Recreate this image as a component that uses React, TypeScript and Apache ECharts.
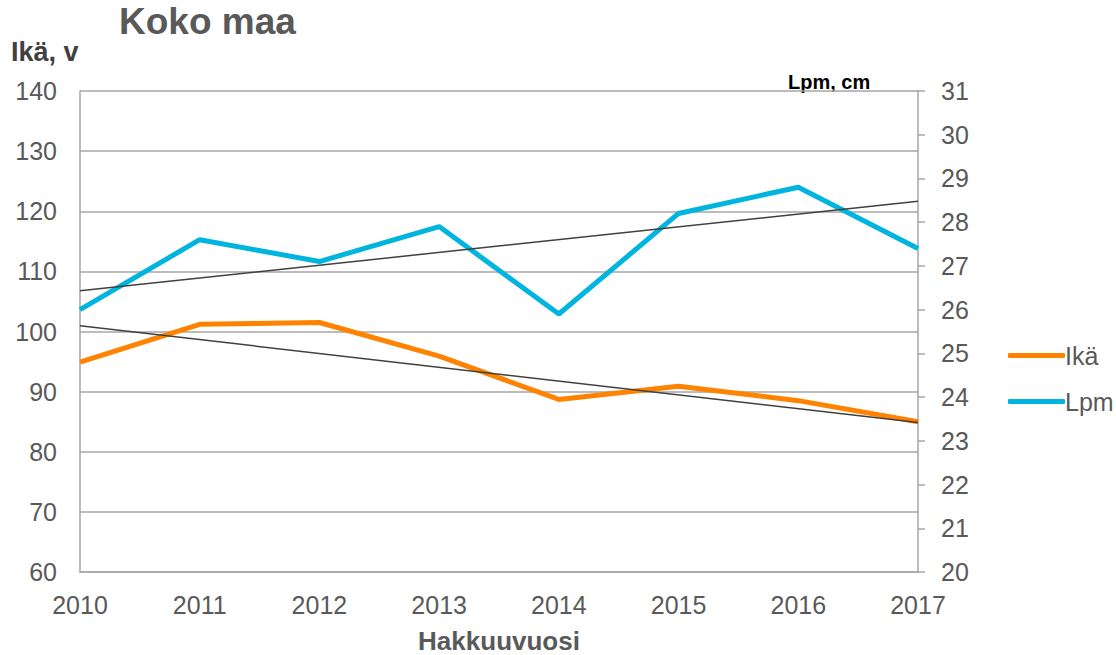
import React, { useEffect, useRef } from "react";
import * as echarts from "echarts";

const years = ["2010", "2011", "2012", "2013", "2014", "2015", "2016", "2017"];
const ikaValues = [94.9, 101.2, 101.5, 95.9, 88.7, 90.9, 88.5, 85.0];
const lpmValues = [26.0, 27.6, 27.1, 27.9, 25.9, 28.2, 28.8, 27.4];
const ikaTrend = [100.95, 84.85];
const lpmTrend = [26.43, 28.48];

const FONT = "Liberation Sans, Arial, sans-serif";

export default function App() {
  const ref = useRef<HTMLDivElement>(null);
  useEffect(() => {
    document.body.style.margin = "0";
    const chart = echarts.init(ref.current!, null, { renderer: "svg" });
    const gray = "#a6a6a6";
    const labelColor = "#595959";
    chart.setOption({
      animation: false,
      textStyle: { fontFamily: FONT },
      graphic: [
        {
          type: "text",
          x: 119,
          y: 21,
          style: {
            text: "Koko maa",
            font: `bold 37px ${FONT}`,
            fill: "#595959",
            verticalAlign: "middle",
          },
        },
        {
          type: "text",
          x: 11,
          y: 52,
          style: {
            text: "Ikä, v",
            font: `bold 27px ${FONT}`,
            fill: "#404040",
            verticalAlign: "middle",
          },
        },
        {
          type: "text",
          x: 788,
          y: 82,
          style: {
            text: "Lpm, cm",
            font: `bold 20px ${FONT}`,
            fill: "#000000",
            verticalAlign: "middle",
          },
        },
        {
          type: "text",
          x: 499,
          y: 641,
          style: {
            text: "Hakkuuvuosi",
            font: `bold 26px ${FONT}`,
            fill: labelColor,
            align: "center",
            verticalAlign: "middle",
          },
        },
      ],
      legend: {
        orient: "vertical",
        left: 1003,
        top: 338,
        itemGap: 21,
        itemWidth: 57,
        itemHeight: 5,
        icon: "roundRect",
        data: ["Ikä", "Lpm"],
        textStyle: { fontSize: 25, color: labelColor, fontFamily: FONT, padding: [0, 0, 0, -5] },
      },
      grid: { left: 80, right: 198, top: 91, bottom: 83, outerBoundsMode: "none", containLabel: false },
      xAxis: {
        type: "category",
        data: years,
        boundaryGap: false,
        axisLine: { lineStyle: { color: gray, width: 1.5 } },
        axisTick: { show: false },
        axisLabel: { fontSize: 25, color: labelColor, margin: 20, fontFamily: FONT },
      },
      yAxis: [
        {
          type: "value",
          min: 60,
          max: 140,
          interval: 10,
          axisLine: { show: true, lineStyle: { color: gray, width: 1.5 } },
          axisTick: { show: false },
          axisLabel: { fontSize: 25, color: labelColor, margin: 23, fontFamily: FONT },
          splitLine: { lineStyle: { color: gray, width: 1.5 } },
        },
        {
          type: "value",
          min: 20,
          max: 31,
          interval: 1,
          position: "right",
          axisLine: { show: true, lineStyle: { color: gray, width: 1.5 } },
          axisTick: { show: true, length: 7, lineStyle: { color: gray, width: 1.5 } },
          axisLabel: { fontSize: 25, color: labelColor, margin: 23, fontFamily: FONT },
          splitLine: { show: false },
        },
      ],
      series: [
        {
          name: "Ikä",
          type: "line",
          data: ikaValues,
          yAxisIndex: 0,
          symbol: "none",
          lineStyle: { color: "#FF8300", width: 5 },
          itemStyle: { color: "#FF8300" },
          z: 3,
        },
        {
          name: "Lpm",
          type: "line",
          data: lpmValues,
          yAxisIndex: 1,
          symbol: "none",
          lineStyle: { color: "#00B4E0", width: 5 },
          itemStyle: { color: "#00B4E0" },
          z: 3,
        },
        {
          name: "Ikä trend",
          type: "line",
          data: [
            [years[0], ikaTrend[0]],
            [years[years.length - 1], ikaTrend[1]],
          ],
          yAxisIndex: 0,
          symbol: "none",
          lineStyle: { color: "#404040", width: 1.5 },
          z: 4,
        },
        {
          name: "Lpm trend",
          type: "line",
          data: [
            [years[0], lpmTrend[0]],
            [years[years.length - 1], lpmTrend[1]],
          ],
          yAxisIndex: 1,
          symbol: "none",
          lineStyle: { color: "#404040", width: 1.5 },
          z: 4,
        },
      ],
    });
    return () => chart.dispose();
  }, []);
  return <div ref={ref} style={{ width: 1116, height: 655 }} />;
}
